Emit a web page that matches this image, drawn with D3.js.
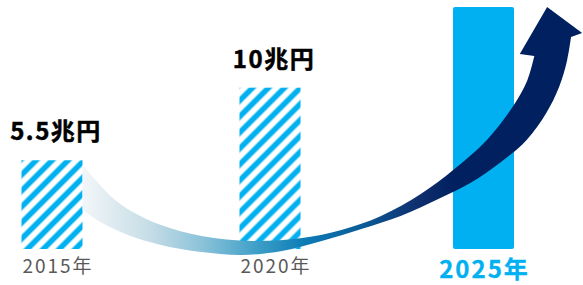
<!DOCTYPE html>
<meta charset="utf-8">
<html>
  <head>
    <style>
      body { margin: 0; background: #fff; }
      svg { display: block; font-family: "Noto Sans CJK JP", "Noto Sans", sans-serif; }
      .value { font-weight: bold; fill: #000; stroke: #000; stroke-width: 0.5px; }
      .year { fill: #595959; }
      .year.now { fill: #00b0f0; font-weight: bold; stroke: #00b0f0; stroke-width: 0.3px; }
    </style>
  </head>
  <body>
    <script src="https://d3js.org/d3.v7.min.js"></script>
    <script>

      // data
      var years = [2015, 2020, 2025];
      var yearLabels = ["2015年", "2020年", "2025年"];
      var values = [5.5, 10, 15];
      var valueLabels = ["5.5兆円", "10兆円", ""];
      var forecast = [false, false, true];

      // arrow outline, in (year, 兆円) units
      var arrowUpper = [
        [2015.70, 5.21], [2016.00, 4.28], [2016.34, 3.29], [2016.81, 2.36],
        [2017.50, 1.49], [2018.43, 0.81], [2019.59, 0.50], [2020.75, 0.68],
        [2021.67, 1.18], [2022.60, 2.05], [2023.53, 3.41], [2024.29, 4.90],
        [2025.08, 6.76], [2025.68, 8.80], [2026.03, 10.48], [2026.19, 11.96]
      ];
      var arrowHead = [[2025.85, 12.09], [2026.49, 15.00], [2027.31, 13.39], [2027.05, 13.14]];
      var arrowLower = [
        [2027.05, 13.14], [2026.96, 11.71], [2026.77, 10.04], [2026.47, 8.43],
        [2026.01, 6.76], [2025.38, 5.33], [2024.69, 4.09], [2023.99, 3.16],
        [2023.06, 2.05], [2022.14, 1.24], [2021.21, 0.50], [2020.28, -0.12],
        [2019.36, -0.37], [2018.43, -0.19], [2017.50, 0.25], [2016.74, 0.87],
        [2016.11, 1.67], [2015.70, 2.42]
      ];

      var width = 583, height = 285;
      var barW = 61;

      var svg = d3.select("body").append("svg")
          .attr("width", width)
          .attr("height", height);

      var x = d3.scaleLinear().domain([2015, 2020, 2025]).range([52, 270, 483.5]);
      var y = d3.scaleLinear().domain([0, 15]).range([249, 7]);

      var defs = svg.append("defs");

      var pat = defs.append("pattern")
          .attr("id", "hatch")
          .attr("patternUnits", "userSpaceOnUse")
          .attr("width", 11.3)
          .attr("height", 11.3)
          .attr("patternTransform", "rotate(45)");
      pat.append("rect").attr("width", 11.3).attr("height", 11.3).attr("fill", "#fff");
      pat.append("rect").attr("x", 0).attr("width", 6.6).attr("height", 11.3).attr("fill", "#8fdcf8");
      pat.append("rect").attr("x", 1).attr("width", 4.6).attr("height", 11.3).attr("fill", "#00b0f0");

      var grad = defs.append("linearGradient")
          .attr("id", "arrowGrad")
          .attr("gradientUnits", "userSpaceOnUse")
          .attr("x1", x(2015.7)).attr("y1", 0)
          .attr("x2", x(2024.3)).attr("y2", 0);
      [[0, "#f2f6f8"], [0.18, "#c6dde7"], [0.32, "#8cc3d9"], [0.47, "#3e9fc8"],
       [0.6, "#0c7bb5"], [0.76, "#0b5a96"], [0.9, "#0f2f6e"], [1, "#002060"]]
        .forEach(function(s) {
          grad.append("stop").attr("offset", s[0]).attr("stop-color", s[1]);
        });

      var data = years.map(function(yr, i) {
        return {year: yr, label: yearLabels[i], value: values[i],
                valueLabel: valueLabels[i], forecast: forecast[i]};
      });

      // bars
      svg.selectAll(".bar")
        .data(data)
        .enter().append("rect")
          .attr("class", "bar")
          .attr("x", function(d) { return x(d.year) - barW / 2; })
          .attr("y", function(d) { return y(d.value); })
          .attr("width", barW)
          .attr("height", function(d) { return y(0) - y(d.value); })
          .attr("rx", function(d) { return d.forecast ? 2 : 0; })
          .attr("fill", function(d) { return d.forecast ? "#00b0f0" : "url(#hatch)"; });

      // arrow
      var curve = d3.line()
          .x(function(d) { return x(d[0]); })
          .y(function(d) { return y(d[1]); })
          .curve(d3.curveCatmullRom);
      var straight = d3.line()
          .x(function(d) { return x(d[0]); })
          .y(function(d) { return y(d[1]); });

      var dPath = curve(arrowUpper)
        + straight(arrowHead).replace(/^M/, "L")
        + curve(arrowLower).replace(/^M/, "L") + "Z";

      svg.append("path")
          .attr("d", dPath)
          .attr("fill", "url(#arrowGrad)");

      // value labels
      svg.selectAll(".value")
        .data(data.filter(function(d) { return d.valueLabel; }))
        .enter().append("text")
          .attr("class", "value")
          .attr("x", function(d) { return x(d.year) + 4; })
          .attr("y", function(d) { return y(d.value) - 20; })
          .attr("text-anchor", "middle")
          .style("font-size", "24px")
          .style("letter-spacing", "1.5px")
          .text(function(d) { return d.valueLabel; });

      // year labels
      svg.selectAll(".year")
        .data(data)
        .enter().append("text")
          .attr("class", function(d) { return d.forecast ? "year now" : "year"; })
          .attr("x", function(d) { return x(d.year) + (d.forecast ? 1 : 6); })
          .attr("y", function(d) { return d.forecast ? 278 : 273; })
          .attr("text-anchor", "middle")
          .style("font-size", function(d) { return d.forecast ? "24px" : "19px"; })
          .style("letter-spacing", "2px")
          .text(function(d) { return d.label; });

    </script>
  </body>
</html>
